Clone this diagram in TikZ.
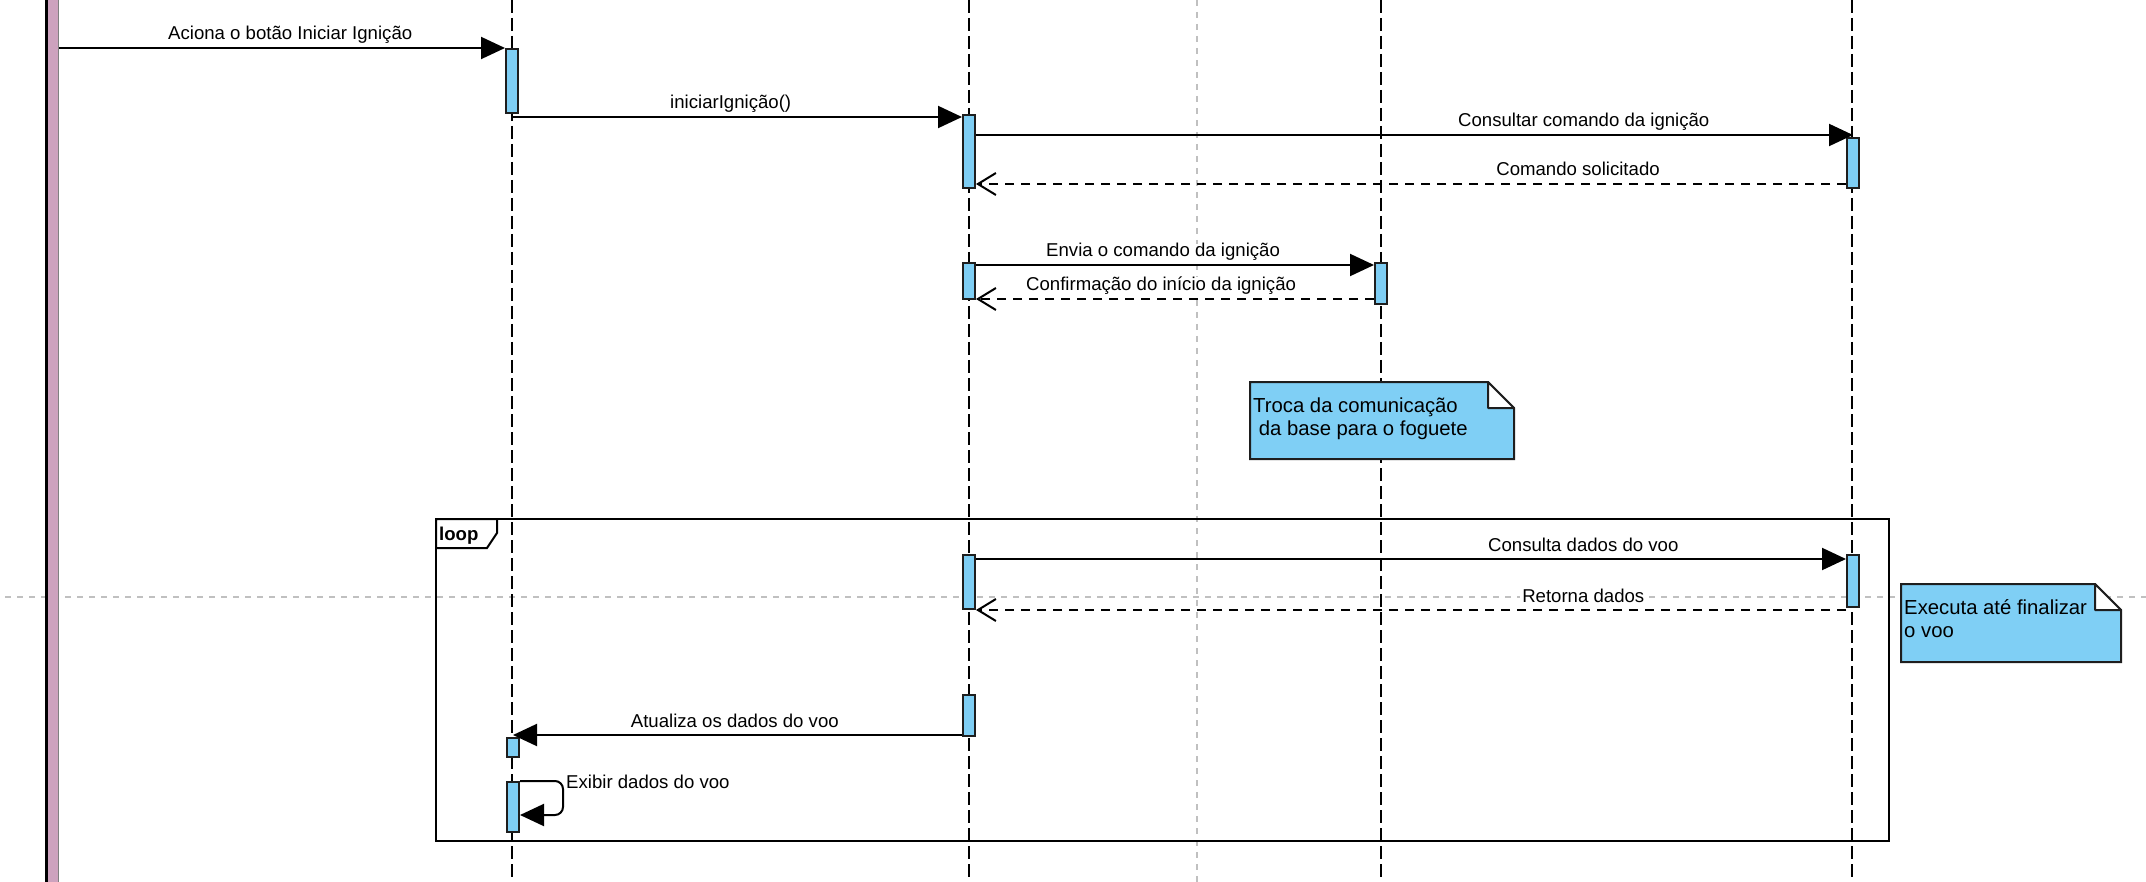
\documentclass[tikz,border=0pt]{standalone}
\usepackage{fontspec}
\setmainfont{Liberation Sans}
\usetikzlibrary{arrows.meta}
\definecolor{actblue}{RGB}{126,206,244}
\definecolor{notebl}{RGB}{127,207,245}
\definecolor{actorpink}{RGB}{205,162,190}
\definecolor{guide}{RGB}{192,192,192}
\definecolor{edgec}{RGB}{30,30,30}
\newcommand\lblfont{\fontsize{18.6}{22}\selectfont}
\newcommand\notefont{\fontsize{20.3}{23}\selectfont}
\begin{document}
\begin{tikzpicture}[x=1pt,y=-1pt,
  lifeline/.style={line width=2pt, dash pattern=on 13pt off 5pt},
  guideline/.style={draw=guide, line width=2pt, dash pattern=on 6pt off 6pt},
  act/.style={draw=edgec, fill=actblue, line width=2pt, minimum width=12pt, inner sep=0pt},
  msg/.style={line width=2pt, -{Triangle[length=24pt,width=22pt]}},
  ret/.style={line width=2pt, dash pattern=on 9pt off 7pt, -{Straight Barb[length=18pt,width=22pt,line width=2pt]}},
  lbl/.style={font=\lblfont, fill=white, inner xsep=2pt, inner ysep=0pt, anchor=base, yshift=8pt},
  notebox/.style={draw=edgec, fill=notebl, line width=2pt, line join=miter},
  fold/.style={draw=edgec, fill=white, line width=2pt, line join=round},
  notetext/.style={anchor=base west, inner sep=0pt, font=\notefont},
]
\useasboundingbox (0,0) rectangle (2146,882);

% guide lines
\coordinate (gvt) at (1197,0);
\coordinate (gvb) at (1197,882);
\coordinate (ghl) at (5,597);
\coordinate (ghr) at (2146,597);
\draw[guideline] (gvt) -- (gvb);
\draw[guideline] (ghl) -- (ghr);

% lifelines
\foreach \x/\n in {512/1,969/2,1381/3,1852/4}{
  \coordinate (L\n t) at (\x,0);
  \coordinate (L\n b) at (\x,882);
  \draw[lifeline] (L\n t) -- (L\n b);
}

% actor bar
\node[fill=actorpink, minimum width=14pt, minimum height=882pt, inner sep=0pt, anchor=north west] (actor) at (45,0) {};
\draw[line width=2.5pt] ([xshift=1.25pt]actor.north west) -- ([xshift=1.25pt]actor.south west);
\draw[line width=1pt, draw=gray] ([xshift=-0.5pt]actor.north east) -- ([xshift=-0.5pt]actor.south east);

% loop frame
\draw[line width=2pt] (436,519) rectangle (1889,841);
\draw[line width=2pt, fill=white, line join=miter] (436,519) -- (497,519) -- (497,533) -- (487,548) -- (436,548) -- cycle;
\node[anchor=base west, inner sep=0pt, font=\lblfont\bfseries] (looplbl) at (439,540) {loop};

% notes
\path[notebox] (1250,382) -- (1488,382) -- (1514,408) -- (1514,459) -- (1250,459) -- cycle;
\path[fold] (1488,382) -- (1488,408) -- (1514,408) -- cycle;
\node[notetext] (n1) at (1253,412) {\begin{tabular}[t]{@{}l@{}}Troca da comunicação\\ \ da base para o foguete\end{tabular}};

\path[notebox] (1901,584) -- (2095,584) -- (2121,610) -- (2121,662) -- (1901,662) -- cycle;
\path[fold] (2095,584) -- (2095,610) -- (2121,610) -- cycle;
\node[notetext] (n2) at (1904,614) {\begin{tabular}[t]{@{}l@{}}Executa até finalizar\\o voo\end{tabular}};

% activation boxes
\node[act, minimum height=64pt] (a1) at (512,81) {};
\node[act, minimum height=73pt] (a2) at (969,151.5) {};
\node[act, minimum height=50pt] (a3) at (1853,163) {};
\node[act, minimum height=36pt] (a4) at (969,281) {};
\node[act, minimum height=41pt] (a5) at (1381,283.5) {};
\node[act, minimum height=54pt] (a6) at (969,582) {};
\node[act, minimum height=52pt] (a7) at (1853,581) {};
\node[act, minimum height=41pt] (a8) at (969,715.5) {};
\node[act, minimum height=19pt] (a9) at (513,747.5) {};
\node[act, minimum height=50pt] (a10) at (513,807) {};

% messages
\draw[msg] (actor.east |- a1.north) -- (a1.north west)
  node[lbl, pos=0.518] {Aciona o botão Iniciar Ignição};
\draw[msg] ([yshift=-3pt]a1.south) -- ([yshift=-3pt]a2.north west)
  node[lbl, pos=0.486] {iniciarIgnição()};
\draw[msg] ([yshift=-21pt]a2.north east) -- ([yshift=2pt]a3.north)
  node[lbl, pos=0.693] {Consultar comando da ignição};
\draw[ret] ([yshift=5pt]a3.south west) -- ([yshift=5pt]a2.south east)
  node[lbl, pos=0.308] {Comando solicitado};
\draw[msg] ([yshift=-3pt]a4.north east) -- ([yshift=-3pt]a5.north west)
  node[lbl, pos=0.47] {Envia o comando da ignição};
\draw[ret] ([yshift=6pt]a5.south west) -- ([yshift=1pt]a4.south east)
  node[lbl, pos=0.535] {Confirmação do início da ignição};
\draw[msg] ([yshift=-5pt]a6.north east) -- ([yshift=-5pt]a7.north west)
  node[lbl, pos=0.698] {Consulta dados do voo};
\draw[ret] (a7.south west |- a6.south) -- (a6.south east)
  node[lbl, pos=0.302] {Retorna dados};
\draw[msg] ([yshift=2pt]a8.south west) -- ([yshift=2pt]a9.north)
  node[lbl, pos=0.506] {Atualiza os dados do voo};
\draw[msg, rounded corners=8pt] (a10.north east) -- ([xshift=43pt]a10.north east)
  -- ([xshift=43pt,yshift=-34pt]a10.north east) -- ([yshift=-34pt]a10.north east);
\node[anchor=base west, inner sep=0pt, font=\lblfont] (selflbl) at ([xshift=46pt,yshift=-7pt]a10.north east) {Exibir dados do voo};
\end{tikzpicture}
\end{document}
